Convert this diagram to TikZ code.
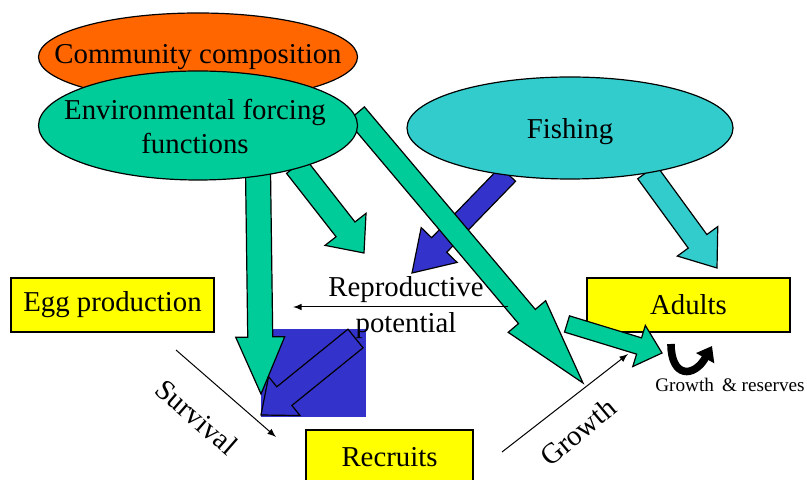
\documentclass[tikz,border=0pt]{standalone}
\usepackage{fontspec}
\setmainfont{Liberation Serif}
\usepackage{tikz}
\usetikzlibrary{arrows,arrows.meta,calc,shapes.geometric}
\definecolor{commorange}{HTML}{FF6600}
\definecolor{envgreen}{HTML}{00CC99}
\definecolor{fishcyan}{HTML}{33CCCC}
\definecolor{fishblue}{HTML}{3333CC}
\definecolor{stageyellow}{HTML}{FFFF00}

% block arrow: [style]{from}{tip}{half shaft}{half head}{head length}
\newcommand{\fatarrow}[6][]{%
  \path (#3) coordinate (fa-tip) ($(#3)!#6!(#2)$) coordinate (fa-base);
  \filldraw[#1] ($(#2)!#4!90:(fa-tip)$) -- ($(fa-base)!#4!90:(fa-tip)$)
      -- ($(fa-base)!#5!90:(fa-tip)$) -- (fa-tip)
      -- ($(fa-base)!#5!-90:(fa-tip)$) -- ($(fa-base)!#4!-90:(fa-tip)$)
      -- ($(#2)!#4!-90:(fa-tip)$) -- cycle;
}

\begin{document}
\begin{tikzpicture}[
x=0.5pt,y=-0.5pt,
font=\fontsize{14.4}{17}\selectfont,
blob/.style={ellipse,draw,line width=0.6pt,inner sep=0pt},
stagebox/.style={rectangle,draw,line width=0.8pt,fill=stageyellow,minimum width=101.5pt,minimum height=27pt,inner sep=0pt},
flow/.style={->,>=latex,line width=0.5pt},
fat/.style={draw=black,line width=0.6pt,line join=miter}]
    \clip (0,0) rectangle (807,480);

    \fill[fishblue] (261,329) rectangle (366,417);

    % Block arrows
    \coordinate (env-down) at (258,170);
    \coordinate (env-down-tip) at (261,394);
    \coordinate (env-repro) at (296,166);
    \coordinate (env-repro-tip) at (364,253);
    \coordinate (env-growth) at (356,114);
    \coordinate (env-growth-tip) at (583,383);
    \coordinate (fish-repro) at (508,174);
    \coordinate (fish-repro-tip) at (412,273);
    \coordinate (fish-adults) at (647,172);
    \coordinate (fish-adults-tip) at (717,268);
    \coordinate (repro-recruits) at (355.5,338.5);
    \coordinate (repro-recruits-tip) at (261,415);

    \fatarrow[fat,fill=fishblue]{fish-repro}{fish-repro-tip}{5.25pt}{12.5pt}{19.5pt}
    \fatarrow[fat,fill=fishcyan]{fish-adults}{fish-adults-tip}{5.75pt}{12.5pt}{16.5pt}
    \fatarrow[fat,fill=envgreen]{env-down}{env-down-tip}{6.25pt}{12.25pt}{28.5pt}
    \fatarrow[fat,fill=envgreen]{env-repro}{env-repro-tip}{6pt}{13pt}{15pt}
    \fatarrow[fat,fill=envgreen]{env-growth}{env-growth-tip}{5.5pt}{12.25pt}{43.5pt}
    \fatarrow[fat,fill=fishblue]{repro-recruits}{repro-recruits-tip}{6pt}{12.5pt}{15pt}

    % Drivers
    \node[blob,fill=commorange,minimum width=159.5pt,minimum height=44pt] (community) at (198,57) {};
    \node (community-text) at (community.center) {Community composition};
    \node[blob,fill=envgreen,minimum width=159.5pt,minimum height=54.5pt] (environment) at (198,125.5) {};
    \node[align=center] (environment-text) at (195,127) {Environmental forcing\\functions};
    \node[blob,fill=fishcyan,minimum width=163pt,minimum height=51pt] (fishing) at (570,128) {};
    \node (fishing-text) at (570,132) {Fishing};

    % Life stages
    \node[stagebox] (eggs) at (112.5,305) {Egg production};
    \node[stagebox] (adults) at (688.5,305) {Adults};
    \node[stagebox,minimum width=83.5pt] (recruits) at (389.5,457) {Recruits};

    \node[align=center,font=\fontsize{14.4}{18}\selectfont] (repro) at (406,308) {Reproductive\\potential};
    \coordinate (repro-from) at (508,307);
    \coordinate (repro-to) at (293,307);
    \draw[flow] (repro-from) -- (repro-to);

    \coordinate (survival-from) at (176,350);
    \coordinate (survival-to) at (276,437);
    \draw[flow] (survival-from) -- (survival-to);
    \node[rotate=-41] (survival) at (197,417) {Survival};

    \coordinate (growth-from) at (502,452);
    \coordinate (growth-to) at (628,354);
    \draw[flow] (growth-from) -- (growth-to);
    \node[rotate=40] (growth) at (578,432) {Growth};

    \coordinate (growth-adults) at (567,324);
    \coordinate (growth-adults-tip) at (662,353);
    \fatarrow[fat,fill=envgreen]{growth-adults}{growth-adults-tip}{4.25pt}{10.75pt}{12pt}

    % reserves loop
    \coordinate (reserves-from) at (671,344);
    \coordinate (reserves-to) at (712,346);
    \draw[line width=3.8pt,-{Triangle[length=7pt,width=10pt]}] (reserves-from) .. controls (671,378) and (694,378) .. (reserves-to);
    \node[font=\fontsize{9.6}{11}\selectfont] (reserves) at (730,385) {Growth \,\& reserves};
\end{tikzpicture}
\end{document}
